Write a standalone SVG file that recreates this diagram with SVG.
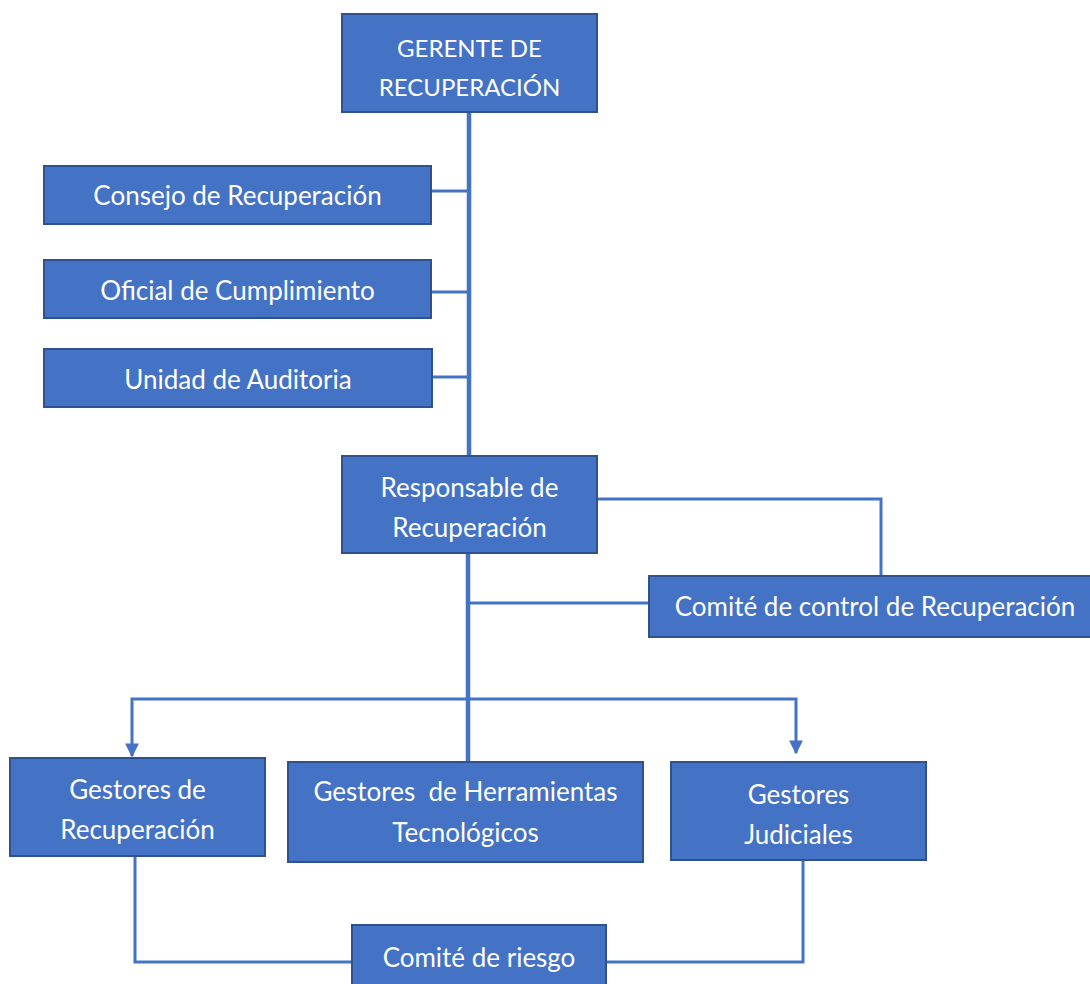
<svg xmlns="http://www.w3.org/2000/svg" width="1090" height="984" viewBox="0 0 1090 984">
  <style>
    .box { fill: #4472C4; stroke: #2F528F; stroke-width: 2; }
    .lbl { fill: #FFFFFF; font-family: Lato, "Open Sans", "Liberation Sans", sans-serif; font-size: 26px; text-anchor: middle; white-space: pre; }
    .caps { font-size: 24px; }
    .wire { fill: none; stroke: #4472C4; stroke-width: 3; }
    .trunk { fill: none; stroke: #4472C4; stroke-width: 4.5; }
  </style>
  <defs>
    <marker id="arrow" viewBox="0 0 10 10" refX="9" refY="5" markerWidth="5" markerHeight="4.6" orient="auto" markerUnits="strokeWidth">
      <path d="M0,0 L10,5 L0,10 Z" fill="#4472C4"/>
    </marker>
  </defs>
  <rect width="1090" height="984" fill="#FFFFFF"/>

  <!-- connectors -->
  <g id="connectors">
    <path class="trunk" d="M469,112 V456"/>
    <path class="wire" d="M431,191 H469"/>
    <path class="wire" d="M431,292 H469"/>
    <path class="wire" d="M432,377 H469"/>
    <path class="wire" d="M597,499 H881 V576"/>
    <path class="trunk" d="M468,553 V762"/>
    <path class="wire" d="M468,603 H649"/>
    <path class="wire" d="M468,699 H132 V756" marker-end="url(#arrow)"/>
    <path class="wire" d="M468,699 H796 V753" marker-end="url(#arrow)"/>
    <path class="wire" d="M135,856 V962 H352"/>
    <path class="wire" d="M606,962 H803 V860"/>
  </g>

  <!-- nodes -->
  <g id="gerente">
    <rect class="box" x="342" y="14" width="255" height="98"/>
    <text class="lbl caps" x="469.5" y="57">GERENTE DE</text>
    <text class="lbl caps" x="469.5" y="96">RECUPERACIÓN</text>
  </g>
  <g id="consejo">
    <rect class="box" x="44" y="166" width="387" height="58"/>
    <text class="lbl" x="237.5" y="205">Consejo de Recuperación</text>
  </g>
  <g id="oficial">
    <rect class="box" x="44" y="260" width="387" height="58"/>
    <text class="lbl" x="237.5" y="300">Oficial de Cumplimiento</text>
  </g>
  <g id="auditoria">
    <rect class="box" x="44" y="349" width="388" height="58"/>
    <text class="lbl" x="238" y="389">Unidad de Auditoria</text>
  </g>
  <g id="responsable">
    <rect class="box" x="342" y="456" width="255" height="97"/>
    <text class="lbl" x="469.5" y="497">Responsable de</text>
    <text class="lbl" x="469.5" y="537">Recuperación</text>
  </g>
  <g id="comite-control">
    <rect class="box" x="649" y="576" width="450" height="61"/>
    <text class="lbl" x="875" y="616">Comité de control de Recuperación</text>
  </g>
  <g id="gestores-recuperacion">
    <rect class="box" x="10" y="758" width="255" height="98"/>
    <text class="lbl" x="137.5" y="799">Gestores de</text>
    <text class="lbl" x="137.5" y="839">Recuperación</text>
  </g>
  <g id="gestores-herramientas">
    <rect class="box" x="288" y="762" width="355" height="100"/>
    <text class="lbl" x="465.5" y="801" xml:space="preserve">Gestores  de Herramientas</text>
    <text class="lbl" x="465.5" y="842">Tecnológicos</text>
  </g>
  <g id="gestores-judiciales">
    <rect class="box" x="671" y="762" width="255" height="98"/>
    <text class="lbl" x="798.5" y="804">Gestores</text>
    <text class="lbl" x="798.5" y="844">Judiciales</text>
  </g>
  <g id="comite-riesgo">
    <rect class="box" x="352" y="925" width="254" height="70"/>
    <text class="lbl" x="479" y="967">Comité de riesgo</text>
  </g>
</svg>
